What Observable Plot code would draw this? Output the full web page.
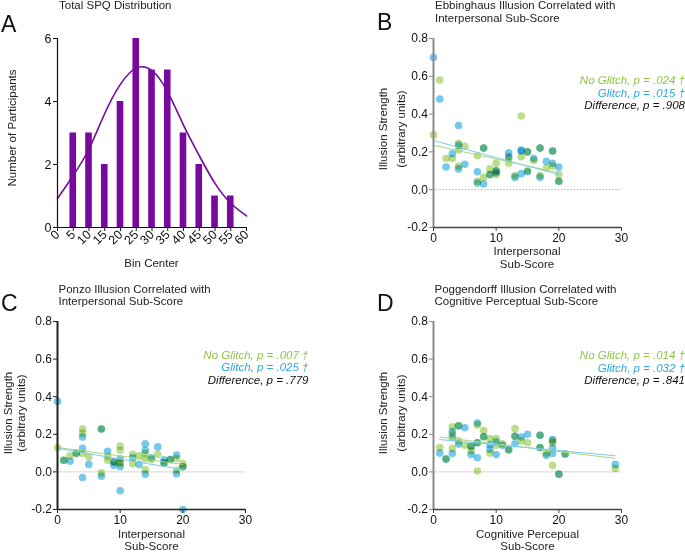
<!DOCTYPE html>
<html><head><meta charset="utf-8">
<script src="https://cdn.jsdelivr.net/npm/d3@7"></script>
<script src="https://cdn.jsdelivr.net/npm/@observablehq/plot@0.6"></script>
<style>
body{margin:0;background:#fff;}
#fig{position:relative;width:685px;height:552px;overflow:hidden;font-family:"Liberation Sans",Arial,sans-serif;background:#fff;}
#fig svg{position:absolute;}
.t{position:absolute;white-space:nowrap;line-height:1;}
</style></head><body><div id="fig"></div>
<script>
// ---------- Panel A data ----------
const binCenters = [5,10,15,20,25,30,35,40,45,50,55];
const binCounts  = [3,3,2,4,6,5,5,3,2,1,1];
const curveX = [0,5,10,15,20,25,30,35,40,45,50,55,60];
const curveY = [0.92,1.65,2.5,3.62,4.55,5.06,4.98,4.3,3.25,2.28,1.4,0.77,0.37];
const xTicksA = [0,5,10,15,20,25,30,35,40,45,50,55,60];
const yTicksA = [0,2,4,6];

// ---------- Scatter panels ----------
const yTicksS = [-0.2,0,0.2,0.4,0.6,0.8];
const xTicksS = [0,10,20,30];

const bNoGlitch = [[0,0.29],[1,0.58],[2,0.165],[3,0.165],[4,0.245],[4,0.21],[4,0.125],[5,0.23],[7,0.18],[7,0.045],[8,0.22],[8,0.065],[9,0.11],[9,0.08],[10,0.14],[10,0.10],[10,0.08],[12,0.165],[12,0.14],[13,0.075],[14,0.39],[14,0.175],[15,0.20],[15,0.10],[16,0.155],[17,0.22],[17,0.075],[18,0.115],[19,0.205],[19,0.125],[20,0.08],[20,0.045]];
const bGlitch = [[0,0.70],[1,0.48],[2,0.12],[3,0.19],[4,0.34],[4,0.235],[4,0.11],[5,0.135],[7,0.095],[7,0.035],[8,0.03],[8,0.22],[9,0.08],[10,0.10],[10,0.09],[12,0.195],[12,0.175],[13,0.065],[14,0.21],[14,0.205],[14,0.085],[15,0.095],[15,0.20],[16,0.165],[17,0.22],[17,0.065],[18,0.15],[19,0.205],[19,0.14],[20,0.12],[20,0.045]];
const bFitNoGlitch = [[0,0.235],[20,0.09]];
const bFitGlitch = [[0,0.26],[20,0.08]];

const cNoGlitch = [[0,0.128],[1,0.062],[2,0.085],[3,0.098],[4,0.228],[4,0.205],[4,0.098],[5,0.08],[7,0.228],[7,-0.005],[8,0.083],[8,0.062],[9,0.053],[10,0.138],[10,0.115],[10,0.053],[10,0.045],[12,0.094],[12,0.044],[13,0.085],[14,0.098],[14,0.07],[14,0.012],[15,0.066],[16,0.094],[17,0.048],[18,0.066],[19,0.071],[19,0.009],[20,0.044],[20,0.027]];
const cGlitch = [[0,0.375],[1,0.062],[2,0.057],[3,0.10],[4,0.185],[4,0.125],[4,-0.03],[5,0.04],[7,0.228],[7,-0.023],[8,0.11],[9,0.035],[9,0.053],[10,0.07],[10,0.027],[10,-0.10],[12,0.075],[13,0.04],[14,0.15],[14,0.115],[14,-0.012],[15,0.075],[16,0.133],[17,0.065],[17,0.048],[18,0.066],[19,0.09],[19,-0.01],[20,-0.2],[20,0.027]];
const cFitNoGlitch = [[0,0.13],[20,0.04]];
const cFitGlitch = [[0,0.125],[20,0.012]];

const dNoGlitch = [[1,0.13],[2,0.068],[3,0.24],[3,0.20],[3,0.125],[4,0.245],[4,0.165],[5,0.142],[6,0.112],[6,0.137],[7,0.25],[7,0.005],[7,0.155],[8,0.22],[8,0.187],[9,0.178],[9,0.10],[10,0.178],[10,0.142],[11,0.15],[12,0.118],[13,0.23],[13,0.19],[14,0.165],[15,0.155],[17,0.195],[17,0.13],[18,0.10],[19,0.155],[19,0.035],[19,0.165],[20,-0.012],[21,0.095],[29,0.018]];
const dGlitch = [[1,0.10],[2,0.068],[3,0.215],[3,0.183],[3,0.098],[4,0.245],[4,0.148],[5,0.235],[6,0.092],[6,0.137],[7,0.26],[7,0.075],[7,0.155],[8,0.187],[9,0.145],[9,0.12],[10,0.092],[10,0.16],[11,0.142],[12,0.118],[13,0.15],[13,0.19],[14,0.185],[15,0.20],[17,0.195],[17,0.13],[18,0.088],[19,0.172],[19,0.127],[19,0.098],[20,-0.012],[21,0.095],[29,0.04]];
const dFitNoGlitch = [[1,0.185],[29,0.072]];
const dFitGlitch = [[1,0.172],[29,0.086]];

const PURPLE = "#770a9c", GREEN = "#8dc63f", BLUE = "#29abe2";
const FONT = '"Liberation Sans", Arial, sans-serif';
const fig = document.getElementById("fig");

function place(svg, left, top) {
  svg.style.left = left + "px"; svg.style.top = top + "px";
  fig.appendChild(svg);
}
function txt(str, x, y, o = {}) {
  const d = document.createElement("div");
  d.className = "t";
  d.textContent = str;
  d.style.left = x + "px"; d.style.top = y + "px";
  d.style.fontSize = (o.size || 11.5) + "px";
  d.style.color = o.color || "#222";
  if (o.italic) d.style.fontStyle = "italic";
  const ax = o.anchor === "end" ? "-100%" : o.anchor === "middle" ? "-50%" : "0";
  d.style.transform = o.rotate ? "translate(-50%,-50%) rotate(-90deg)" : `translate(${ax},-50%)`;
  fig.appendChild(d);
}

// ---------- Panel A ----------
const bars = binCenters.map((c, i) => ({c, n: binCounts[i]}));
const curve = curveX.map((x, i) => ({x, y: curveY[i]}));
place(Plot.plot({
  width: 342, height: 276,
  marginLeft: 57, marginRight: 96, marginTop: 38, marginBottom: 49,
  x: {domain: [0, 60], axis: null},
  y: {domain: [0, 6], axis: null},
  style: {fontFamily: FONT, fontSize: "12.5px", color: "#111", background: "transparent", overflow: "visible"},
  marks: [
    Plot.rect(bars, {x1: d => d.c - 1.05, x2: d => d.c + 1.05, y1: 0, y2: "n", fill: PURPLE}),
    Plot.line(curve, {x: "x", y: "y", curve: "natural", stroke: PURPLE, strokeWidth: 1.6}),
    Plot.axisY({ticks: yTicksA, tickSize: 4, tickPadding: 2, label: null, tickFormat: d => String(d)}),
    Plot.axisX({ticks: xTicksA, tickSize: 4, tickPadding: 1, tickRotate: -45, label: null, tickFormat: d => String(d)}),
    Plot.ruleX([0], {stroke: "#111", strokeWidth: 1.2}),
    Plot.ruleY([0], {stroke: "#111", strokeWidth: 1.2})
  ]
}), 0, 0);

// ---------- Scatter panel builder ----------
function scatter(green, blue, fitG, fitB, left, top, mt, mb, leftAxisColor, bottomAxisColor) {
  const svg = Plot.plot({
    width: 343, height: 276,
    marginLeft: 91, marginRight: 64, marginTop: mt, marginBottom: mb,
    x: {domain: [0, 30], axis: null},
    y: {domain: [-0.2, 0.8], axis: null},
    style: {fontFamily: FONT, fontSize: "12px", color: "#111", background: "transparent", overflow: "visible"},
    marks: [
      Plot.ruleY([0], {stroke: "#999", strokeDasharray: "1.2,2"}),
      Plot.dot(green, {x: d => d[0], y: d => d[1], r: 3.8, fill: GREEN, fillOpacity: 0.6, stroke: "none", mixBlendMode: "multiply"}),
      Plot.dot(blue, {x: d => d[0], y: d => d[1], r: 3.8, fill: BLUE, fillOpacity: 0.64, stroke: "none", mixBlendMode: "multiply"}),
      Plot.line(fitG, {x: d => d[0], y: d => d[1], stroke: "#a8d67a", strokeWidth: 1}),
      Plot.line(fitB, {x: d => d[0], y: d => d[1], stroke: "#7dcbee", strokeWidth: 1}),
      Plot.axisY({ticks: yTicksS, tickSize: 4, tickPadding: 1.5, label: null, tickFormat: d => d.toFixed(1), stroke: leftAxisColor}),
      Plot.axisX({ticks: xTicksS, tickSize: 4, tickPadding: 1.5, label: null, tickFormat: d => String(d), stroke: bottomAxisColor}),
      Plot.ruleX([0], {stroke: leftAxisColor, strokeWidth: 2}),
      Plot.ruleY([-0.2], {stroke: bottomAxisColor, strokeWidth: 1.5})
    ]
  });
  place(svg, left, top);
}

scatter(bNoGlitch, bGlitch, bFitNoGlitch, bFitGlitch, 342, 0, 38, 49, "#8a8a8a", "#444");
scatter(cNoGlitch, cGlitch, cFitNoGlitch, cFitGlitch, -34, 276, 45, 43, "#222", "#222");
scatter(dNoGlitch, dGlitch, dFitNoGlitch, dFitGlitch, 342, 276, 45, 43, "#8a8a8a", "#444");

// ---------- Texts ----------
// Panel A
txt("Total SPQ Distribution", 59, 6, {});
txt("A", 1, 24, {size: 23, color: "#111"});
txt("Number of Participants", 12.5, 128, {rotate: true});
txt("Bin Center", 151.5, 264, {anchor: "middle"});

// Panel B
txt("B", 377, 21.5, {size: 23, color: "#111"});
txt("Ebbinghaus Illusion Correlated with", 435, 6, {});
txt("Interpersonal Sub-Score", 435, 19, {});
txt("Illusion Strength", 384, 129, {rotate: true});
txt("(arbitrary units)", 401.5, 129, {rotate: true});
txt("Interpersonal", 527, 251.5, {anchor: "middle"});
txt("Sub-Score", 527, 265, {anchor: "middle"});
txt("No Glitch, p = .024 \u2020", 685, 80.5, {anchor: "end", italic: true, color: GREEN});
txt("Glitch, p = .015 \u2020", 685, 93.5, {anchor: "end", italic: true, color: BLUE});
txt("Difference, p = .908", 685, 106, {anchor: "end", italic: true, color: "#111"});

// Panel C
txt("C", 1, 302.5, {size: 23, color: "#111"});
txt("Ponzo Illusion Correlated with", 58.5, 289.5, {});
txt("Interpersonal Sub-Score", 58.5, 302, {});
txt("Illusion Strength", 8.5, 413, {rotate: true});
txt("(arbitrary units)", 22, 413, {rotate: true});
txt("Interpersonal", 151.5, 534.5, {anchor: "middle"});
txt("Sub-Score", 151.5, 547, {anchor: "middle"});
txt("No Glitch, p = .007 \u2020", 308.5, 355.5, {anchor: "end", italic: true, color: GREEN});
txt("Glitch, p = .025 \u2020", 308.5, 368, {anchor: "end", italic: true, color: BLUE});
txt("Difference, p = .779", 308.5, 381, {anchor: "end", italic: true, color: "#111"});

// Panel D
txt("D", 377, 302.5, {size: 23, color: "#111"});
txt("Poggendorff Illusion Correlated with", 434.5, 289.5, {});
txt("Cognitive Perceptual Sub-Score", 434.5, 302, {});
txt("Illusion Strength", 384, 413, {rotate: true});
txt("(arbitrary units)", 402, 413, {rotate: true});
txt("Cognitive Percepual", 527.5, 534.5, {anchor: "middle"});
txt("Sub-Score", 527.5, 547, {anchor: "middle"});
txt("No Glitch, p = .014 \u2020", 685, 356, {anchor: "end", italic: true, color: GREEN});
txt("Glitch, p = .032 \u2020", 685, 368.5, {anchor: "end", italic: true, color: BLUE});
txt("Difference, p = .841", 685, 381, {anchor: "end", italic: true, color: "#111"});
</script></body></html>
